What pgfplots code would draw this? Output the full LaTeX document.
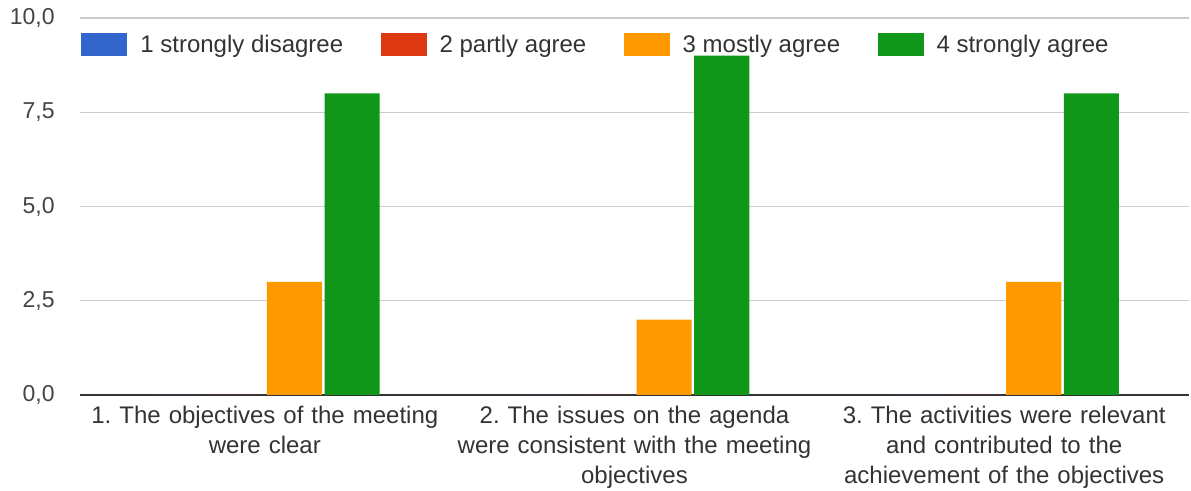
\documentclass[border=0pt]{standalone}
\usepackage{fontspec}
\setmainfont{Liberation Sans}
\usepackage{pgfplots}
\pgfplotsset{compat=1.18}
\frenchspacing
\definecolor{cblue}{HTML}{3366CC}
\definecolor{cred}{HTML}{DC3912}
\definecolor{corange}{HTML}{FF9900}
\definecolor{cgreen}{HTML}{109618}
\definecolor{ctext}{HTML}{333333}
\definecolor{ctick}{HTML}{444444}
\definecolor{cgrid}{HTML}{CCCCCC}
\pgfplotsset{
  mybar/.style={ybar, bar width=0.149, draw=none, fill=#1,
    legend image code/.code={\fill[##1,draw=none] (0pt,-5.75pt) rectangle (23pt,5.75pt);}},
}
\begin{document}
\begin{tikzpicture}
\path[use as bounding box] (-40pt,-48pt) rectangle (555.5pt,197.5pt);
\begin{axis}[
  at={(0,0)}, anchor=south west,
  scale only axis, width=554.5pt, height=188.5pt,
  xmin=-0.5, xmax=2.5, ymin=0, ymax=10,
  axis line style={draw=none},
  major tick length=0pt,
  xtick={0,1,2},
  xticklabels={{1. The objectives of the meeting\\were clear},{2. The issues on the agenda\\were consistent with the meeting\\objectives},{3. The activities were relevant\\and contributed to the\\achievement of the objectives}},
  xticklabel style={align=center, text width=200pt, inner sep=0pt, yshift=-5.2pt, font=\fontsize{12}{15}\selectfont, text=ctext},
  ytick={2.5,5,7.5,10},
  extra y ticks={0},
  extra y tick style={grid style={draw=ctext, line width=1pt}},
  ymajorgrids,
  grid style={draw=cgrid, line width=0.7pt},
  yticklabel style={inner sep=0pt, xshift=-12.5pt, font=\fontsize{11.5}{14}\selectfont, text=ctick},
  /pgf/number format/fixed, /pgf/number format/fixed zerofill, /pgf/number format/precision=1,
  /pgf/number format/use comma, /pgf/number format/assume math mode=true,
  legend columns=4,
  legend style={draw=none, fill=none, at={(axis description cs:0,1)}, anchor=west,
    xshift=0.5pt, yshift=-13.5pt, font=\fontsize{12}{14}\selectfont, text=ctext,
    inner sep=0pt, nodes={inner sep=0pt},
    /tikz/every odd column/.style={column sep=6.5pt},
    /tikz/every even column/.style={column sep=18.7pt}},
]
\addplot[mybar=cblue, bar shift=-0.236] coordinates {(0,0) (1,0) (2,0)};
\addplot[mybar=cred, bar shift=-0.08] coordinates {(0,0) (1,0) (2,0)};
\addplot[mybar=corange, bar shift=0.08] coordinates {(0,3) (1,2) (2,3)};
\addplot[mybar=cgreen, bar shift=0.236] coordinates {(0,8) (1,9) (2,8)};
\legend{1 strongly disagree, 2 partly agree, 3 mostly agree, 4 strongly agree}
\end{axis}
\end{tikzpicture}
\end{document}
